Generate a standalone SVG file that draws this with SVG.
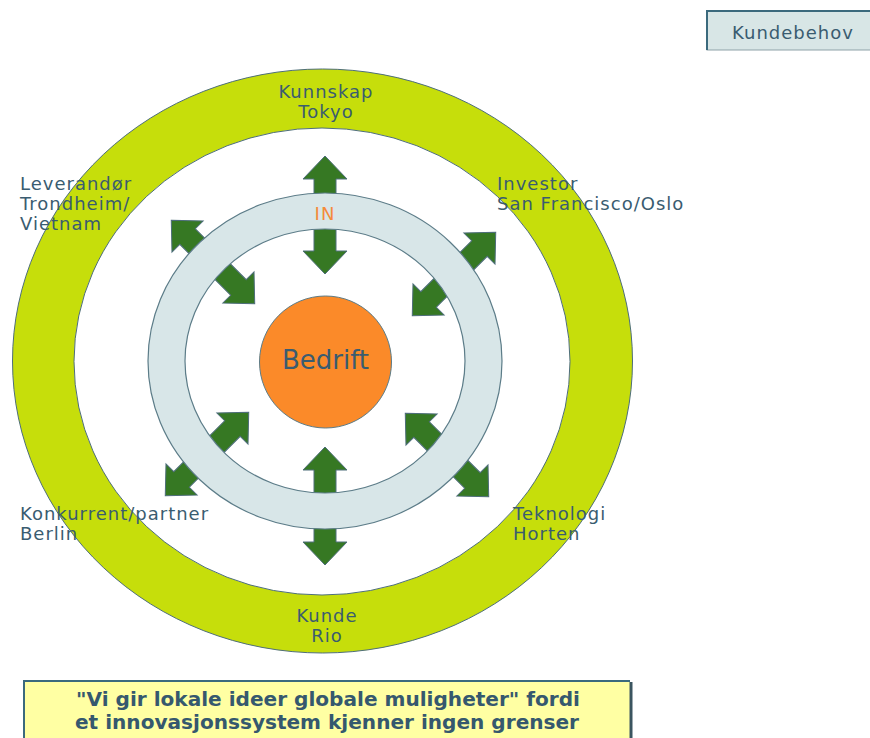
<svg xmlns="http://www.w3.org/2000/svg" width="870" height="738" viewBox="0 0 870 738">
  <defs>
    <style>
      .lbl { font-family: "DejaVu Sans", Verdana, sans-serif; font-size: 18px; letter-spacing: 1px; fill: #3A5C70; }
      .mid { text-anchor: middle; }
      .arrow { fill: #367823; stroke: #4E6E7A; stroke-width: 1; }
      .quote { font-family: "DejaVu Sans", Verdana, sans-serif; font-size: 20px; font-weight: bold; fill: #35586E; text-anchor: middle; }
    </style>
    <!-- double-headed arrow centred on the origin, pointing along the y axis -->
    <path id="dbl" class="arrow" d="M0,-59 L22,-36 L11,-36 L11,36 L22,36 L0,59 L-22,36 L-11,36 L-11,-36 L-22,-36 Z"/>
  </defs>

  <rect width="870" height="738" fill="#FFFFFF"/>

  <!-- outer ring -->
  <g id="outer-ring">
    <path d="M12.5,361 a310,292 0 1,0 620,0 a310,292 0 1,0 -620,0 Z M74,361.5 a248,233.5 0 1,0 496,0 a248,233.5 0 1,0 -496,0 Z" fill="#C6DE0B" fill-rule="evenodd" stroke="#4E6E7A" stroke-width="1"/>
  </g>

  <!-- arrows (drawn beneath the inner ring) -->
  <g id="arrows">
    <use href="#dbl" transform="translate(325,215)"/>
    <use href="#dbl" transform="translate(325,506)"/>
    <use href="#dbl" transform="translate(213,262) rotate(-45)"/>
    <use href="#dbl" transform="translate(454,274) rotate(45)"/>
    <use href="#dbl" transform="translate(207,454) rotate(45)"/>
    <use href="#dbl" transform="translate(447,455) rotate(-45)"/>
  </g>

  <!-- inner ring -->
  <g id="inner-ring">
    <path d="M148,361 a177,168 0 1,0 354,0 a177,168 0 1,0 -354,0 Z M185,361 a140,132 0 1,0 280,0 a140,132 0 1,0 -280,0 Z" fill="#D8E6E8" fill-rule="evenodd" stroke="#5C7C88" stroke-width="1.2"/>
    <text x="325" y="220" class="mid" font-family="DejaVu Sans, Verdana, sans-serif" font-size="18" letter-spacing="1" fill="#F58B3A">IN</text>
  </g>

  <!-- centre -->
  <g id="bedrift">
    <circle cx="325.5" cy="362" r="66" fill="#FB8A29" stroke="#5C7C88" stroke-width="1"/>
    <text x="325.5" y="369" class="mid" font-family="DejaVu Sans, Verdana, sans-serif" font-size="26" fill="#3A5C70">Bedrift</text>
  </g>

  <g id="kunnskap">
    <text class="lbl mid" x="326" y="98">Kunnskap</text>
    <text class="lbl mid" x="326" y="118">Tokyo</text>
  </g>
  <g id="leverandor">
    <text class="lbl" x="20" y="190">Leverandør</text>
    <text class="lbl" x="20" y="210">Trondheim/</text>
    <text class="lbl" x="20" y="230">Vietnam</text>
  </g>
  <g id="investor">
    <text class="lbl" x="497" y="190">Investor</text>
    <text class="lbl" x="497" y="210">San Francisco/Oslo</text>
  </g>
  <g id="konkurrent">
    <text class="lbl" x="20" y="520">Konkurrent/partner</text>
    <text class="lbl" x="20" y="540">Berlin</text>
  </g>
  <g id="teknologi">
    <text class="lbl" x="513" y="520">Teknologi</text>
    <text class="lbl" x="513" y="540">Horten</text>
  </g>
  <g id="kunde">
    <text class="lbl mid" x="327" y="622">Kunde</text>
    <text class="lbl mid" x="327" y="642">Rio</text>
  </g>

  <g id="kundebehov">
    <rect x="707" y="11" width="170" height="39" fill="#D8E6E6" stroke="#8EA2A8" stroke-width="1"/>
    <path d="M707,50 L707,11 L870,11" fill="none" stroke="#3B6A7D" stroke-width="2"/>
    <text class="lbl mid" x="793" y="39">Kundebehov</text>
  </g>

  <g id="motto">
    <rect x="24" y="681" width="606" height="62" fill="#FFFFA3"/>
    <path d="M24,743 L24,681 L630,681" fill="none" stroke="#3B6A7D" stroke-width="2"/>
    <path d="M631,682 L631,743" fill="none" stroke="#3B5560" stroke-width="3"/>
    <text class="quote" x="328" y="706" textLength="504" lengthAdjust="spacingAndGlyphs">"Vi gir lokale ideer globale muligheter" fordi</text>
    <text class="quote" x="327" y="729" textLength="504" lengthAdjust="spacingAndGlyphs">et innovasjonssystem kjenner ingen grenser</text>
  </g>
</svg>
